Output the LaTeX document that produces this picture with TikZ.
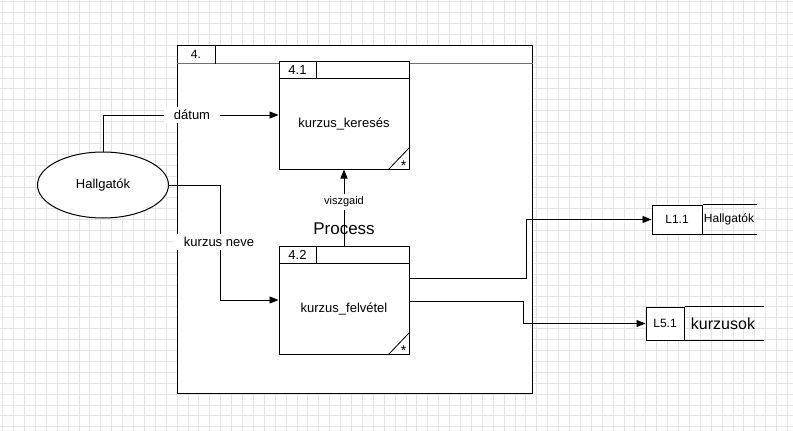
\documentclass[tikz,border=0pt]{standalone}
\usepackage{fontspec}
\setmainfont{Liberation Sans}
\usetikzlibrary{arrows.meta,calc,positioning,shapes.geometric}
\definecolor{GridGray}{HTML}{E4E4E4}
\definecolor{HeadGray}{HTML}{707070}
\newcommand{\fs}[1]{\fontsize{#1}{#1}\selectfont}

\begin{document}
\begin{tikzpicture}[x=1pt,y=-1pt,line width=1pt,
    proc/.style={draw,rectangle,minimum width=130pt,minimum height=108pt,inner sep=0pt},
    storeid/.style={draw,rectangle,inner sep=0pt,font=\fs{12}},
    flow/.style={line width=0.9pt,-{Triangle[length=9pt,width=7pt]}},
    lbl/.style={fill=white,inner xsep=10pt,inner ysep=3pt,font=\fs{13}}]
    \useasboundingbox (0,0) rectangle (793,431);
    % background grid
    \foreach \i in {0,...,72}
        \draw[GridGray,line width=0.9pt] (2.7+10.9*\i,0) -- (2.7+10.9*\i,431);
    \foreach \j in {0,...,39}
        \draw[GridGray,line width=0.9pt] (0,1.7+10.9*\j) -- (793,1.7+10.9*\j);

    % process 4.
    \node[draw,fill=white,minimum width=355pt,minimum height=348pt,inner sep=0pt] (p4) at (354.5,219) {};
    \draw[HeadGray] ($(p4.north west)+(0,19)$) coordinate (p4h) -- ($(p4.north east)+(0,19)$);
    \draw ($(p4.north west)+(39,0)$) -- ($(p4.north west)+(39,19)$);
    \node[font=\fs{12}] (p4id) at ($(p4.north west)+(19.5,10)$) {4.};

    % process 4.1
    \node[proc,fill=white] (p41) at (344,115) {};
    \draw ($(p41.north west)+(0,18)$) -- ($(p41.north east)+(0,18)$);
    \draw ($(p41.north west)+(38,0)$) -- ($(p41.north west)+(38,18)$);
    \node[font=\fs{13}] (p41id) at ($(p41.north west)+(19,9.5)$) {4.1};
    \node[font=\fs{13}] (p41txt) at ($(p41)+(0,9)$) {kurzus\_keresés};
    \draw[line width=0.8pt] ($(p41.south east)+(-21,0)$) -- ($(p41.south east)+(0,-22)$);
    \node[font=\fs{14}] (p41st) at ($(p41.south east)+(-6,-4)$) {*};

    % process 4.2
    \node[proc,fill=white] (p42) at (344,300) {};
    \draw ($(p42.north west)+(0,18)$) -- ($(p42.north east)+(0,18)$);
    \draw ($(p42.north west)+(38,0)$) -- ($(p42.north west)+(38,18)$);
    \node[font=\fs{13}] (p42id) at ($(p42.north west)+(19,9.5)$) {4.2};
    \node[font=\fs{13}] (p42txt) at ($(p42)+(0,9)$) {kurzus\_felvétel};
    \draw[line width=0.8pt] ($(p42.south east)+(-21,0)$) -- ($(p42.south east)+(0,-22)$);
    \node[font=\fs{14}] (p42st) at ($(p42.south east)+(-6,-4)$) {*};

    % external entity
    \node[draw,ellipse,fill=white,minimum width=131pt,minimum height=66pt,inner sep=0pt,font=\fs{13}] (hall) at (103,185) {Hallgatók};

    % data stores
    \node[storeid,fill=white,minimum width=50pt,minimum height=29pt] (l11) at (677,219.5) {L1.1};
    \node[font=\fs{12}] (l11n) at (729,219.5) {Hallgatók};
    \draw (l11.north east) -- ++(54,0);
    \draw (l11.south east) -- ++(54,0);
    \node[storeid,fill=white,minimum width=38pt,minimum height=33pt] (l51) at (665,323.5) {L5.1};
    \node[font=\fs{16}] (l51n) at (723,323.5) {kurzusok};
    \draw (l51.north east) -- ++(79,0);
    \draw (l51.south east) -- ++(79,0);

    % flows
    \draw[flow] (hall.north) |- (p41.west);
    \coordinate (kn) at ($(hall.east)+(51,0)$);
    \draw[flow] (hall.east) -- (kn) |- (p42.west);
    \draw[flow] (p42.north) -- (p41.south);
    \coordinate (o1) at ($(p42.east)+(117,-22)$);
    \coordinate (o2) at ($(p42.east)+(114,1)$);
    \draw[flow] ($(p42.east)+(0,-22)$) -- (o1) |- (l11.west);
    \draw[flow] ($(p42.east)+(0,1)$) -- (o2) |- (l51.west);

    % labels
    \node[lbl] (ldatum) at (192,115) {dátum};
    \node[lbl] (lneve) at (219,242) {kurzus neve};
    \node[lbl,font=\fs{11},inner xsep=1pt,inner ysep=3pt] (lvisz) at (344,202) {viszgaid};
    \node[font=\fs{17}] (lproc) at (344,229) {Process};
\end{tikzpicture}
\end{document}
